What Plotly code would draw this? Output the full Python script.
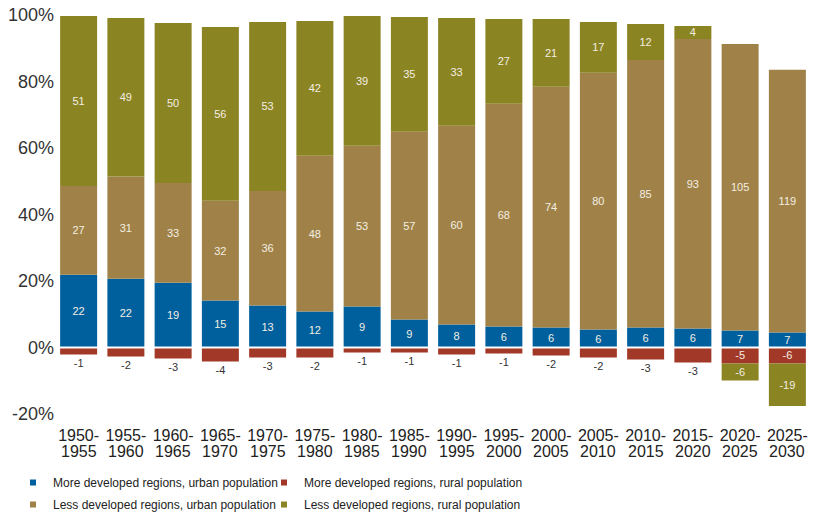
import plotly.graph_objects as go

# Five-year periods
periods = ["1950-1955", "1955-1960", "1960-1965", "1965-1970", "1970-1975",
           "1975-1980", "1980-1985", "1985-1990", "1990-1995", "1995-2000",
           "2000-2005", "2005-2010", "2010-2015", "2015-2020", "2020-2025",
           "2025-2030"]

# Share of the period's population change (%), used for bar heights
mdr_urban_pct = [21.9, 20.7, 19.5, 14.1, 12.6, 10.8, 12.3, 8.4, 6.9, 6.3,
                 6.0, 5.4, 6.0, 5.7, 5.1, 4.5]
mdr_rural_pct = [-2.1, -2.7, -3.3, -4.2, -3.0, -3.0, -1.5, -1.5, -2.1, -1.8,
                 -2.4, -3.0, -3.6, -4.5, -4.8, -4.8]
ldr_urban_pct = [26.7, 30.7, 30.0, 30.0, 34.5, 46.9, 48.4, 56.5, 59.8, 67.0,
                 72.4, 77.2, 80.5, 87.1, 86.2, 79.0]
ldr_rural_pct = [51.1, 47.7, 48.1, 52.3, 50.8, 40.5, 39.0, 34.5, 32.4, 25.5,
                 20.4, 15.3, 10.8, 3.9, -5.1, -12.8]

# Population change in millions, printed on the bars
mdr_urban_mn = [22, 22, 19, 15, 13, 12, 9, 9, 8, 6, 6, 6, 6, 6, 7, 7]
mdr_rural_mn = [-1, -2, -3, -4, -3, -2, -1, -1, -1, -1, -2, -2, -3, -3, -5, -6]
ldr_urban_mn = [27, 31, 33, 32, 36, 48, 53, 57, 60, 68, 74, 80, 85, 93, 105, 119]
ldr_rural_mn = [51, 49, 50, 56, 53, 42, 39, 35, 33, 27, 21, 17, 12, 4, -6, -19]

# Y axis ticks
y_ticks = [-20, 0, 20, 40, 60, 80, 100]

names = ["More developed regions, urban population",
         "More developed regions, rural population",
         "Less developed regions, urban population",
         "Less developed regions, rural population"]
colors = ["#00609e", "#a23827", "#a08248", "#8b8423"]

FONT = "Liberation Sans, Arial, sans-serif"
LABEL_LIGHT = "#f3eee2"
LABEL_DARK = "#333333"

series = [
    (mdr_urban_pct, mdr_urban_mn),
    (mdr_rural_pct, mdr_rural_mn),
    (ldr_urban_pct, ldr_urban_mn),
    (ldr_rural_pct, ldr_rural_mn),
]

fig = go.Figure()
for i, (pct, mn) in enumerate(series):
    if i == 1:
        # developed-region rural decline: label under the bar, unless
        # the rural decline of less developed regions is stacked beneath it
        pos = ["outside" if r > 0 else "inside" for r in ldr_rural_pct]
    else:
        pos = "inside"
    fig.add_trace(go.Bar(
        x=periods, y=pct, name=names[i],
        marker=dict(color=colors[i], line=dict(width=0)),
        text=[str(v) for v in mn],
        textposition=pos,
        textangle=0,
        insidetextanchor="middle",
        insidetextfont=dict(family=FONT, size=11, color=LABEL_LIGHT),
        outsidetextfont=dict(family=FONT, size=11, color=LABEL_DARK),
        cliponaxis=False,
        showlegend=False,
    ))

# Legend entries with small square keys, split over two columns
legend_of = ["legend", "legend2", "legend", "legend2"]
for i in range(4):
    fig.add_trace(go.Scatter(
        x=[None], y=[None], mode="markers", name=names[i],
        marker=dict(symbol="square", size=6, color=colors[i]),
        legend=legend_of[i], legendgroup=f"g{i}", showlegend=True,
    ))

start_labels = [p.split("-")[0] + "-" for p in periods]
end_labels = [p.split("-")[1] for p in periods]

# second line of each period label, set tighter than a <br> would give
annotations = [
    dict(x=p, xref="x", y=0, yref="paper", text=e, showarrow=False,
         yanchor="middle", yshift=-37,
         font=dict(family=FONT, size=16, color="#222222"))
    for p, e in zip(periods, end_labels)
]

legend_common = dict(
    orientation="v", xref="container", yref="container",
    yanchor="top", y=0.093, xanchor="left",
    font=dict(family=FONT, size=12, color="#222222"),
    bgcolor="rgba(0,0,0,0)", itemwidth=30, tracegroupgap=3,
)

fig.update_layout(
    width=816, height=516,
    margin=dict(l=55, r=5, t=15, b=102, autoexpand=False),
    paper_bgcolor="white", plot_bgcolor="white",
    barmode="relative", bargap=0.217,
    uniformtext=dict(minsize=11, mode="show"),
    showlegend=True,
    legend=dict(x=13 / 816, **legend_common),
    legend2=dict(x=264 / 816, **legend_common),
    xaxis=dict(
        type="category", tickmode="array", tickvals=periods,
        ticktext=start_labels, ticklabelstandoff=10,
        tickfont=dict(family=FONT, size=16, color="#222222"),
        showgrid=False, showline=False, zeroline=False, ticks="",
    ),
    yaxis=dict(
        range=[-20, 100], tickmode="array", tickvals=y_ticks,
        ticktext=[f"{v}%" for v in y_ticks],
        tickfont=dict(family=FONT, size=18, color="#333333"),
        showgrid=False, showline=False, zeroline=False, ticks="",
    ),
    annotations=annotations,
    shapes=[dict(type="line", xref="paper", x0=0, x1=1, yref="y", y0=0, y1=0,
                 line=dict(color="white", width=2), layer="above")],
)

fig.write_html("out.html")
